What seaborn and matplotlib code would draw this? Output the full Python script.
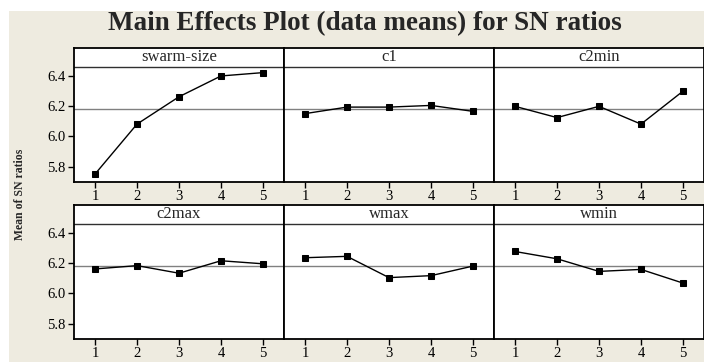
import numpy as np
import pandas as pd
import seaborn as sns
import matplotlib
matplotlib.use('Agg')
from matplotlib import pyplot as plt
from matplotlib.patches import Rectangle

# factor names and levels
factors = ['swarm-size', 'c1', 'c2min', 'c2max', 'wmax', 'wmin']
levels = [1, 2, 3, 4, 5]

# mean of SN ratios per level
swarm_size = [5.752, 6.081, 6.261, 6.398, 6.420]
c1 = [6.150, 6.193, 6.193, 6.204, 6.165]
c2min = [6.198, 6.124, 6.198, 6.081, 6.298]
c2max = [6.161, 6.183, 6.133, 6.215, 6.195]
wmax = [6.235, 6.244, 6.104, 6.117, 6.180]
wmin = [6.276, 6.228, 6.145, 6.158, 6.068]
grand_mean = 6.18

yticks = [5.8, 6.0, 6.2, 6.4]

series = [swarm_size, c1, c2min, c2max, wmax, wmin]
df = pd.concat([
    pd.DataFrame({'Factor': f, 'Level': levels, 'SN': s})
    for f, s in zip(factors, series)
], ignore_index=True)

sns.set_style('white')
plt.rcParams['font.family'] = ['Liberation Serif', 'DejaVu Serif']

bg = '#eeebe0'
fig, axes = plt.subplots(2, 3, figsize=(7.04, 3.62), dpi=100, sharey=True)
fig.patch.set_facecolor('white')
fig.patches.append(Rectangle((9 / 704, 0), 1, 1 - 11 / 362, transform=fig.transFigure,
                             facecolor=bg, edgecolor='none', zorder=-10))
fig.subplots_adjust(left=74 / 704, right=1.0, top=1 - 48 / 362, bottom=23 / 362,
                    wspace=0, hspace=23 / 134)

strip_y = 6.457
ylim = (5.70, 6.582)

for ax, name in zip(axes.flat, factors):
    sub = df[df['Factor'] == name]
    ax.axhline(grand_mean, color='#808080', lw=1.0, zorder=1)
    sns.lineplot(data=sub, x='Level', y='SN', ax=ax, color='black', lw=1.0,
                 marker='s', markersize=5, markeredgecolor='black', zorder=3)
    ax.axhline(strip_y, color='#303030', lw=1.0)
    ax.text(0.5, (strip_y + ylim[1]) / 2, name, transform=ax.get_yaxis_transform(),
            ha='center', va='center', fontsize=12)
    ax.set_xlim(0.5, 5.5)
    ax.set_ylim(*ylim)
    ax.set_xticks(levels)
    ax.set_yticks(yticks)
    ax.set_yticklabels([f'{v:.1f}' for v in yticks])
    ax.set_xlabel('')
    ax.set_ylabel('')
    ax.set_facecolor('white')
    for sp in ax.spines.values():
        sp.set_color('black')
        sp.set_linewidth(1.3)
    ax.tick_params(axis='x', bottom=True, direction='out', length=4, width=1,
                   labelsize=10.5, pad=2, colors='black')
    ax.tick_params(axis='y', left=True, direction='out', length=4, width=1,
                   labelsize=10.5, pad=2, colors='black')

for ax in axes[:, 1:].flat:
    ax.tick_params(axis='y', left=False)

fig.text(0.518, 1 - 24 / 362, 'Main Effects Plot (data means) for SN ratios',
         ha='center', va='center', fontsize=19.5, fontweight='bold')
fig.text(20 / 704, 1 - 194 / 362, 'Mean of SN ratios', rotation=90,
         ha='center', va='center', fontsize=8.5, fontweight='bold')

fig.savefig('out.png', dpi=100, facecolor=fig.get_facecolor())
